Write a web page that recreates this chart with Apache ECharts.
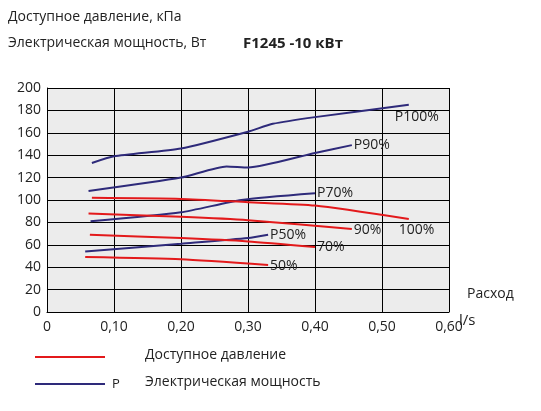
<!DOCTYPE html>
<html><head><meta charset="utf-8">
<script src="https://cdn.jsdelivr.net/npm/echarts@6/dist/echarts.min.js"></script>
<style>html,body{margin:0;background:#fff}#c{width:541px;height:411px}</style>
</head><body><div id="c"></div>
<script>
// power curves (x in l/s, y in W)
const p100 = [[0.067,133],[0.10,139],[0.20,146],[0.30,161],[0.337,168],[0.40,174],[0.54,185]];
const p90 = [[0.062,108],[0.20,120],[0.268,130],[0.30,129],[0.40,142],[0.455,149]];
const p70 = [[0.065,81],[0.20,89],[0.29,100],[0.40,106]];
const p50 = [[0.057,54],[0.20,61],[0.30,66],[0.33,69]];
// available pressure curves (kPa)
const d100 = [[0.067,102],[0.20,101],[0.30,98],[0.40,95],[0.54,83]];
const d90 = [[0.062,88],[0.20,85],[0.30,82],[0.455,74]];
const d70 = [[0.064,69],[0.20,66],[0.30,63],[0.40,58]];
const d50 = [[0.057,49],[0.20,47],[0.33,42]];

const blue = "#2e2a7a", red = "#e3191b";
const font = "Open Sans";
const mk = (data, color, label, dx, dy) => ({
  type: "line", data, smooth: 0.2, symbol: "none",
  lineStyle: { color, width: 2 },
  endLabel: { show: true, formatter: label, color: "#222", fontSize: 14, fontFamily: font, distance: 2, offset: [dx, dy] }
});

const chart = echarts.init(document.getElementById("c"));
chart.setOption({
  animation: false,
  textStyle: { fontFamily: font },
  grid: { left: 47, right: 92, top: 88, bottom: 99, backgroundColor: "#ececec", show: true, borderWidth: 0 },
  xAxis: {
    type: "value", min: 0, max: 0.6, interval: 0.1,
    axisLine: { lineStyle: { color: "#000" } }, axisTick: { show: false },
    splitLine: { lineStyle: { color: "#000", width: 1 } },
    axisLabel: { color: "#222", fontSize: 14, formatter: v => v === 0 ? "0" : v.toFixed(2).replace(".", ",") }
  },
  yAxis: {
    type: "value", min: 0, max: 200, interval: 20,
    axisLine: { show: true, lineStyle: { color: "#000" } }, axisTick: { show: false },
    splitLine: { lineStyle: { color: "#000", width: 1 } },
    axisLabel: { color: "#222", fontSize: 14, margin: 6 }
  },
  series: [
    mk(p100, blue, "P100%", -16, 12), mk(p90, blue, "P90%", 0, 0), mk(p70, blue, "P70%", 0, 0), mk(p50, blue, "P50%", 0, 0),
    mk(d100, red, "100%", -12, 11), mk(d90, red, "90%", 0, 1), mk(d70, red, "70%", 0, 0), mk(d50, red, "50%", 0, 1)
  ],
  graphic: [
    { type: "text", left: 8, top: 10, style: { text: "Доступное давление, кПа", fontSize: 14, fontFamily: font, fill: "#222" } },
    { type: "text", left: 8, top: 36, style: { text: "Электрическая мощность, Вт", fontSize: 14, fontFamily: font, fill: "#222" } },
    { type: "text", left: 243, top: 36, style: { text: "F1245 -10 кВт", fontSize: 15, fontWeight: "bold", fontFamily: font, fill: "#222" } },
    { type: "text", left: 467, top: 287, style: { text: "Расход", fontSize: 14, fontFamily: font, fill: "#222" } },
    { type: "text", left: 459, top: 313, style: { text: "l/s", fontSize: 15, fontFamily: font, fill: "#222" } },
    { type: "line", shape: { x1: 35, y1: 357, x2: 105, y2: 357 }, style: { stroke: red, lineWidth: 2 } },
    { type: "text", left: 145, top: 348, style: { text: "Доступное давление", fontSize: 14, fontFamily: font, fill: "#222" } },
    { type: "line", shape: { x1: 35, y1: 384, x2: 105, y2: 384 }, style: { stroke: blue, lineWidth: 2 } },
    { type: "text", left: 112, top: 378, style: { text: "P", fontSize: 13, fontFamily: font, fill: "#222" } },
    { type: "text", left: 145, top: 375, style: { text: "Электрическая мощность", fontSize: 14, fontFamily: font, fill: "#222" } }
  ]
});
</script></body></html>
